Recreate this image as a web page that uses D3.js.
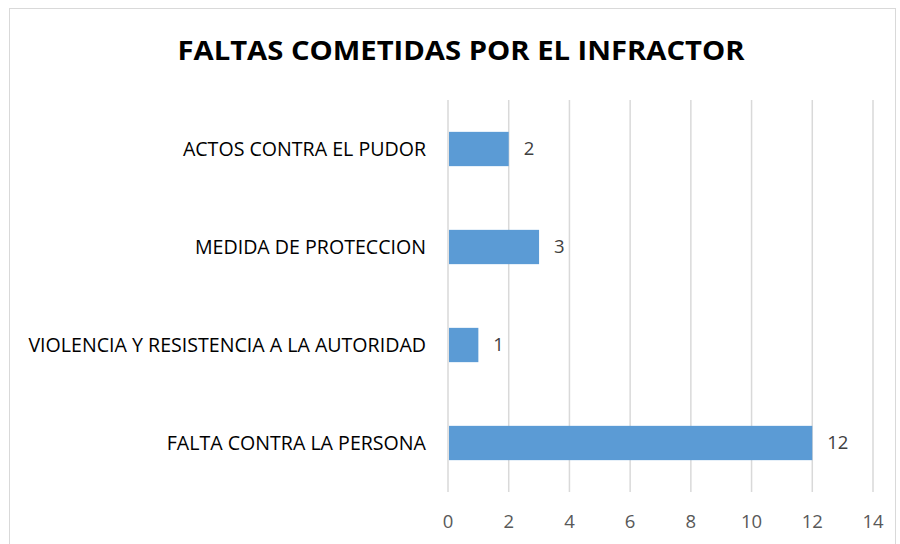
<!DOCTYPE html>
<html>
<head>
<meta charset="utf-8">
<script src="https://cdn.jsdelivr.net/npm/d3@7"></script>
<style>
body { margin: 0; background: #fff; }
svg text { font-family: "Open Sans", sans-serif; }
</style>
</head>
<body>
<div id="chart"></div>
<script>
var categories = ["ACTOS CONTRA EL PUDOR", "MEDIDA DE PROTECCION", "VIOLENCIA Y RESISTENCIA A LA AUTORIDAD", "FALTA CONTRA LA PERSONA"];
var values = [2, 3, 1, 12];
var ticks = [0, 2, 4, 6, 8, 10, 12, 14];

var width = 900, height = 544;
var svg = d3.select("#chart").append("svg")
	.attr("width", width)
	.attr("height", height);

// chart border
svg.append("rect")
	.attr("x", 9.5).attr("y", 8.5)
	.attr("width", 886).attr("height", 560)
	.attr("fill", "none")
	.attr("stroke", "#d9d9d9");

svg.append("text")
	.attr("x", 461).attr("y", 60)
	.attr("text-anchor", "middle")
	.attr("font-size", 27)
	.attr("font-weight", "bold")
	.attr("fill", "#000")
	.attr("textLength", 567)
	.attr("lengthAdjust", "spacingAndGlyphs")
	.text("FALTAS COMETIDAS POR EL INFRACTOR");

var xScale = d3.scaleLinear().domain([0, 14]).range([448, 873]);
var yScale = d3.scaleBand().domain(categories).range([100, 492]).paddingInner(0.65).paddingOuter(0.325);

// gridlines
svg.selectAll("line.grid")
	.data(ticks)
	.enter()
	.append("line")
	.attr("class", "grid")
	.attr("x1", function(d){ return xScale(d); })
	.attr("x2", function(d){ return xScale(d); })
	.attr("y1", 100)
	.attr("y2", 492)
	.attr("stroke", "#d9d9d9")
	.attr("stroke-width", 1.5);

svg.selectAll("rect.bar")
	.data(values)
	.enter()
	.append("rect")
	.attr("class", "bar")
	.attr("x", xScale(0) + 1)
	.attr("y", function(d, i){ return yScale(categories[i]); })
	.attr("width", function(d){ return xScale(d) - xScale(0) - 1; })
	.attr("height", yScale.bandwidth())
	.attr("fill", "#5b9bd5");

svg.selectAll("text.val")
	.data(values)
	.enter()
	.append("text")
	.attr("class", "val")
	.attr("x", function(d){ return xScale(d) + 15; })
	.attr("y", function(d, i){ return yScale(categories[i]) + yScale.bandwidth() / 2; })
	.attr("dy", "0.35em")
	.attr("font-size", 18.5)
	.attr("fill", "#404040")
	.text(function(d){ return d; });

svg.selectAll("text.cat")
	.data(categories)
	.enter()
	.append("text")
	.attr("class", "cat")
	.attr("x", 426)
	.attr("y", function(d){ return yScale(d) + yScale.bandwidth() / 2; })
	.attr("dy", "0.35em")
	.attr("text-anchor", "end")
	.attr("font-size", 19.6)
	.attr("fill", "#000")
	.text(function(d){ return d; });

svg.selectAll("text.tick")
	.data(ticks)
	.enter()
	.append("text")
	.attr("class", "tick")
	.attr("x", function(d){ return xScale(d); })
	.attr("y", 522)
	.attr("dy", "0.35em")
	.attr("text-anchor", "middle")
	.attr("font-size", 18.5)
	.attr("fill", "#595959")
	.text(function(d){ return d; });
</script>
</body>
</html>
